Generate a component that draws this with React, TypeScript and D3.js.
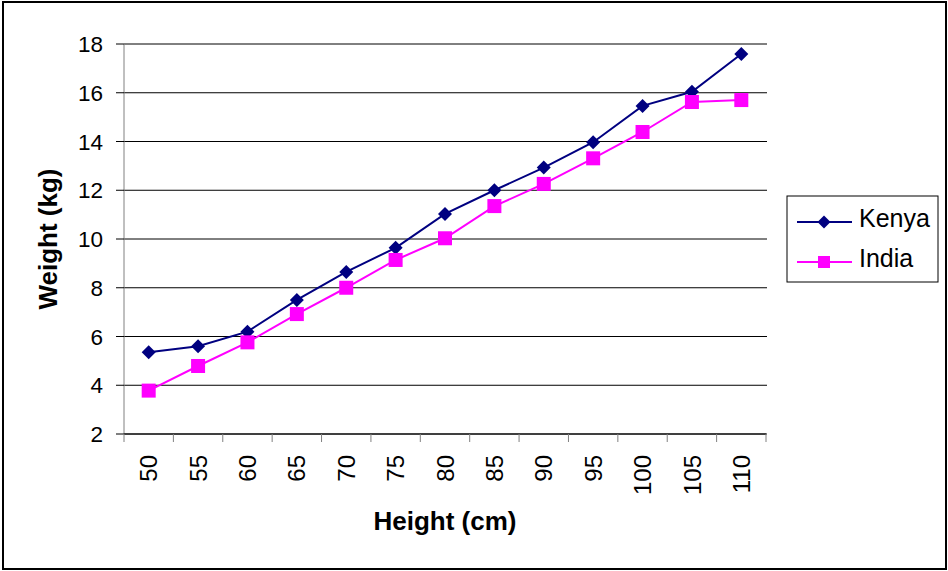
import React from "react";
import * as d3 from "d3";

const heights = ["50", "55", "60", "65", "70", "75", "80", "85", "90", "95", "100", "105", "110"];
const kenya = [5.35, 5.6, 6.2, 7.5, 8.65, 9.64, 11.03, 12.0, 12.93, 13.97, 15.46, 16.04, 17.59];
const india = [3.78, 4.79, 5.76, 6.92, 8.0, 9.14, 10.03, 11.35, 12.26, 13.31, 14.39, 15.62, 15.7];
const yTicks = [2, 4, 6, 8, 10, 12, 14, 16, 18];
const seriesNames = ["Kenya", "India"];
const seriesColors = ["#000080", "#FF00FF"];

const W = 948;
const H = 571;
const plot = { left: 124, right: 766, top: 44, bottom: 434 };
const FONT = "Arial, 'Liberation Sans', sans-serif";

export default function App() {
  const x = d3.scaleBand<string>().domain(heights).range([plot.left, plot.right]);
  const y = d3.scaleLinear().domain([2, 18]).range([plot.bottom, plot.top]);
  const cx = (h: string) => (x(h) as number) + x.bandwidth() / 2;

  const line = d3
    .line<number>()
    .x((_, i) => cx(heights[i]))
    .y((d) => y(d));

  const diamond = (px: number, py: number, r: number) =>
    `M${px},${py - r}L${px + r},${py}L${px},${py + r}L${px - r},${py}Z`;

  const series = [kenya, india];

  const legendX = 787;
  const legendY = 196;

  return (
    <svg
      width={W}
      height={H}
      style={{ position: "fixed", left: 0, top: 0, background: "#fff" }}
      fontFamily={FONT}
    >
      <rect x={0} y={0} width={W} height={H} fill="#fff" />
      <rect x={3} y={2} width={943} height={567} fill="none" stroke="#000" strokeWidth={2} />

      {/* gridlines */}
      {yTicks.map((t) => (
        <line key={"g" + t} x1={plot.left} x2={plot.right + 1} y1={y(t)} y2={y(t)} stroke="#000" strokeWidth={1} />
      ))}

      {/* y axis */}
      <line x1={plot.left} x2={plot.left} y1={plot.top} y2={plot.bottom} stroke="#808080" strokeWidth={1} />
      {yTicks.map((t) => (
        <g key={"yt" + t}>
          <line x1={plot.left - 8} x2={plot.left} y1={y(t)} y2={y(t)} stroke="#000" strokeWidth={1} />
          <text x={103} y={y(t)} dy="0.36em" textAnchor="end" fontSize={22.5} fill="#000">
            {t}
          </text>
        </g>
      ))}

      {/* x axis */}
      <line x1={plot.left} x2={plot.right} y1={plot.bottom} y2={plot.bottom} stroke="#000" strokeWidth={1} />
      {heights.map((h) => (
        <line
          key={"xt" + h}
          x1={x(h) as number}
          x2={x(h) as number}
          y1={plot.bottom}
          y2={plot.bottom + 8}
          stroke="#808080"
          strokeWidth={1}
        />
      ))}
      <line x1={plot.right} x2={plot.right} y1={plot.bottom} y2={plot.bottom + 8} stroke="#808080" />
      {heights.map((h) => (
        <text
          key={"xl" + h}
          transform={`translate(${cx(h)},${455}) rotate(-90)`}
          textAnchor="end"
          dy="0.36em"
          fontSize={24}
          fill="#000"
        >
          {h}
        </text>
      ))}

      {/* axis titles */}
      <text x={(plot.left + plot.right) / 2} y={530} textAnchor="middle" fontSize={26} fontWeight="bold" fill="#000">
        Height (cm)
      </text>
      <text
        transform={`translate(57,${(plot.top + plot.bottom) / 2}) rotate(-90)`}
        textAnchor="middle"
        fontSize={26}
        fontWeight="bold"
        fill="#000"
      >
        Weight (kg)
      </text>

      {/* series */}
      {series.map((s, si) => (
        <g key={"s" + si}>
          <path d={line(s) as string} fill="none" stroke={seriesColors[si]} strokeWidth={2} />
          {s.map((v, i) =>
            si === 0 ? (
              <path key={i} d={diamond(cx(heights[i]), y(v), 7)} fill={seriesColors[si]} />
            ) : (
              <rect key={i} x={cx(heights[i]) - 7} y={y(v) - 7} width={14} height={14} fill={seriesColors[si]} />
            )
          )}
        </g>
      ))}

      {/* legend */}
      <rect x={legendX} y={legendY} width={151} height={86} fill="#fff" stroke="#000" strokeWidth={1} />
      {seriesNames.map((n, i) => {
        const ly = legendY + 26 + i * 40;
        return (
          <g key={"l" + n}>
            <line x1={legendX + 10} x2={legendX + 65} y1={ly} y2={ly} stroke={seriesColors[i]} strokeWidth={2} />
            {i === 0 ? (
              <path d={diamond(legendX + 37, ly, 6.5)} fill={seriesColors[i]} />
            ) : (
              <rect x={legendX + 31} y={ly - 6} width={12} height={12} fill={seriesColors[i]} />
            )}
            <text x={legendX + 72} y={ly + 4.5} fontSize={25} fill="#000">
              {n}
            </text>
          </g>
        );
      })}
    </svg>
  );
}
